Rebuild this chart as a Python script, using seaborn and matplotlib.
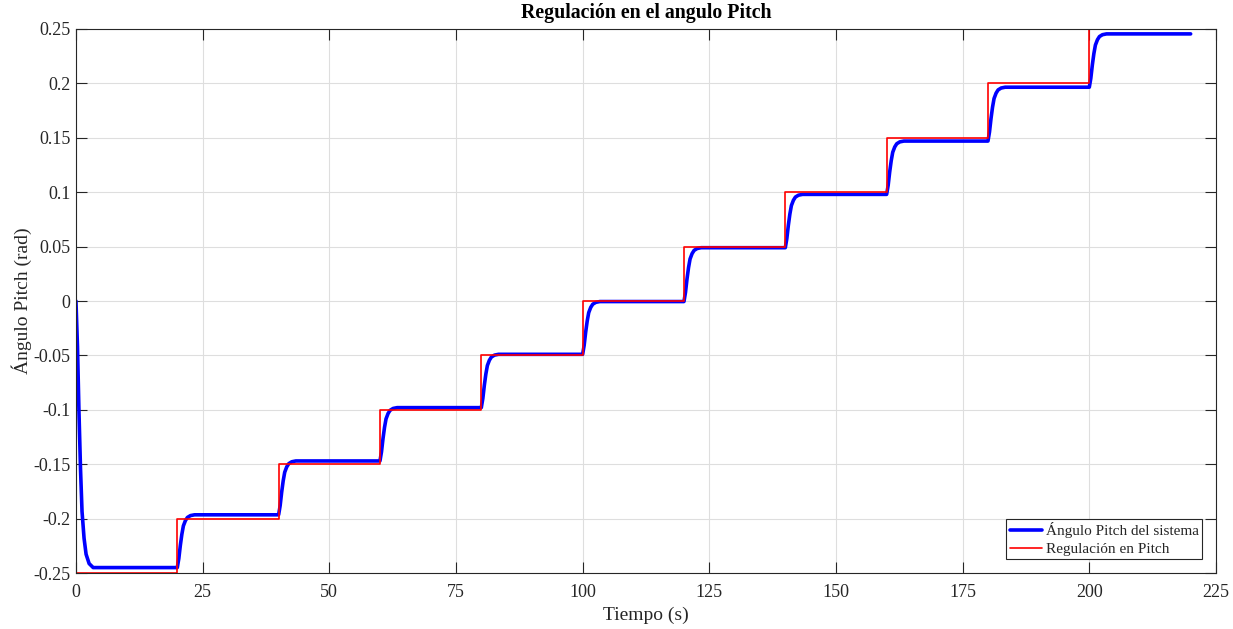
import numpy as np
import pandas as pd
import matplotlib
matplotlib.use("Agg")
import matplotlib.pyplot as plt
import seaborn as sns

# ---- data ----
step_times = [0, 20, 40, 60, 80, 100, 120, 140, 160, 180, 200]
end_time = 220
ref_levels = [-0.25, -0.2, -0.15, -0.1, -0.05, 0.0, 0.05, 0.1, 0.15, 0.2, 0.25]
sys_start = 0.0
sys_levels = [-0.245, -0.1965, -0.147, -0.098, -0.049, -0.0005,
              0.049, 0.098, 0.147, 0.1965, 0.2455]
# normalised transient shape after each step (time offset, fraction reached)
rise_offsets = [0.0, 0.3, 0.6, 0.9, 1.2, 1.6, 2.0, 2.6, 3.4]
rise_fraction = [0.0, 0.17, 0.42, 0.63, 0.79, 0.89, 0.95, 0.985, 1.0]

xticks = [0, 25, 50, 75, 100, 125, 150, 175, 200, 225]
yticks = [-0.25, -0.2, -0.15, -0.1, -0.05, 0, 0.05, 0.1, 0.15, 0.2, 0.25]
ytick_labels = ["-0.25", "-0.2", "-0.15", "-0.1", "-0.05", "0",
                "0.05", "0.1", "0.15", "0.2", "0.25"]

# ---- build series ----
ref_t = step_times + [end_time]
ref_y = ref_levels + [ref_levels[-1]]
ref_df = pd.DataFrame({"t": ref_t, "y": ref_y})

sys_t, sys_y = [], []
prev = sys_start
for ts, lvl in zip(step_times, sys_levels):
    for off, fr in zip(rise_offsets, rise_fraction):
        sys_t.append(ts + off)
        sys_y.append(prev + (lvl - prev) * fr)
    prev = lvl
sys_t.append(end_time)
sys_y.append(prev)
sys_df = pd.DataFrame({"t": sys_t, "y": sys_y})

# ---- plot ----
sns.set_theme(style="white")
plt.rcParams["font.family"] = ["Liberation Serif", "DejaVu Serif"]
plt.rcParams["mathtext.fontset"] = "stix"

fig = plt.figure(figsize=(12.33, 6.29), dpi=100)
ax = fig.add_axes([0.0616, 0.089, 0.9246, 0.8649])

sns.lineplot(data=sys_df, x="t", y="y", ax=ax, color="#0000ff", linewidth=2.6,
             estimator=None, sort=False, label="Ángulo Pitch del sistema")
sns.lineplot(data=ref_df, x="t", y="y", ax=ax, color="#ff0000", linewidth=1.2,
             estimator=None, sort=False, drawstyle="steps-post",
             label="Regulación en Pitch")

ax.set_xlim(0, 225)
ax.set_ylim(-0.25, 0.25)
ax.set_xticks(xticks)
ax.set_xticklabels([str(v) for v in xticks])
ax.set_yticks(yticks)
ax.set_yticklabels(ytick_labels)
ax.tick_params(direction="in", length=8, width=0.8, top=True, right=True,
               bottom=True, left=True, labelsize=13, colors="#262626")
ax.tick_params(axis="x", pad=8)
ax.tick_params(axis="y", pad=4)
for s in ax.spines.values():
    s.set_color("#262626")
    s.set_linewidth(0.8)
    s.set_visible(True)
ax.grid(True, color="#dedede", linewidth=0.8)
ax.set_axisbelow(True)

ax.set_xlabel("Tiempo (s)", fontsize=14, color="#262626", labelpad=4)
ax.set_ylabel("Ángulo Pitch (rad)", fontsize=14, color="#262626", labelpad=1)
ax.set_title("Regulación en el angulo Pitch", fontsize=14.3, fontweight="bold",
             color="black", pad=8)

leg = ax.legend(loc="lower right", fontsize=11, frameon=True, fancybox=False,
                framealpha=1, edgecolor="#262626", borderpad=0.2,
                handlelength=2.1, handletextpad=0.3, labelspacing=0.3,
                borderaxespad=0.9)
leg.get_frame().set_linewidth(0.8)

fig.savefig("out.png", dpi=100)
